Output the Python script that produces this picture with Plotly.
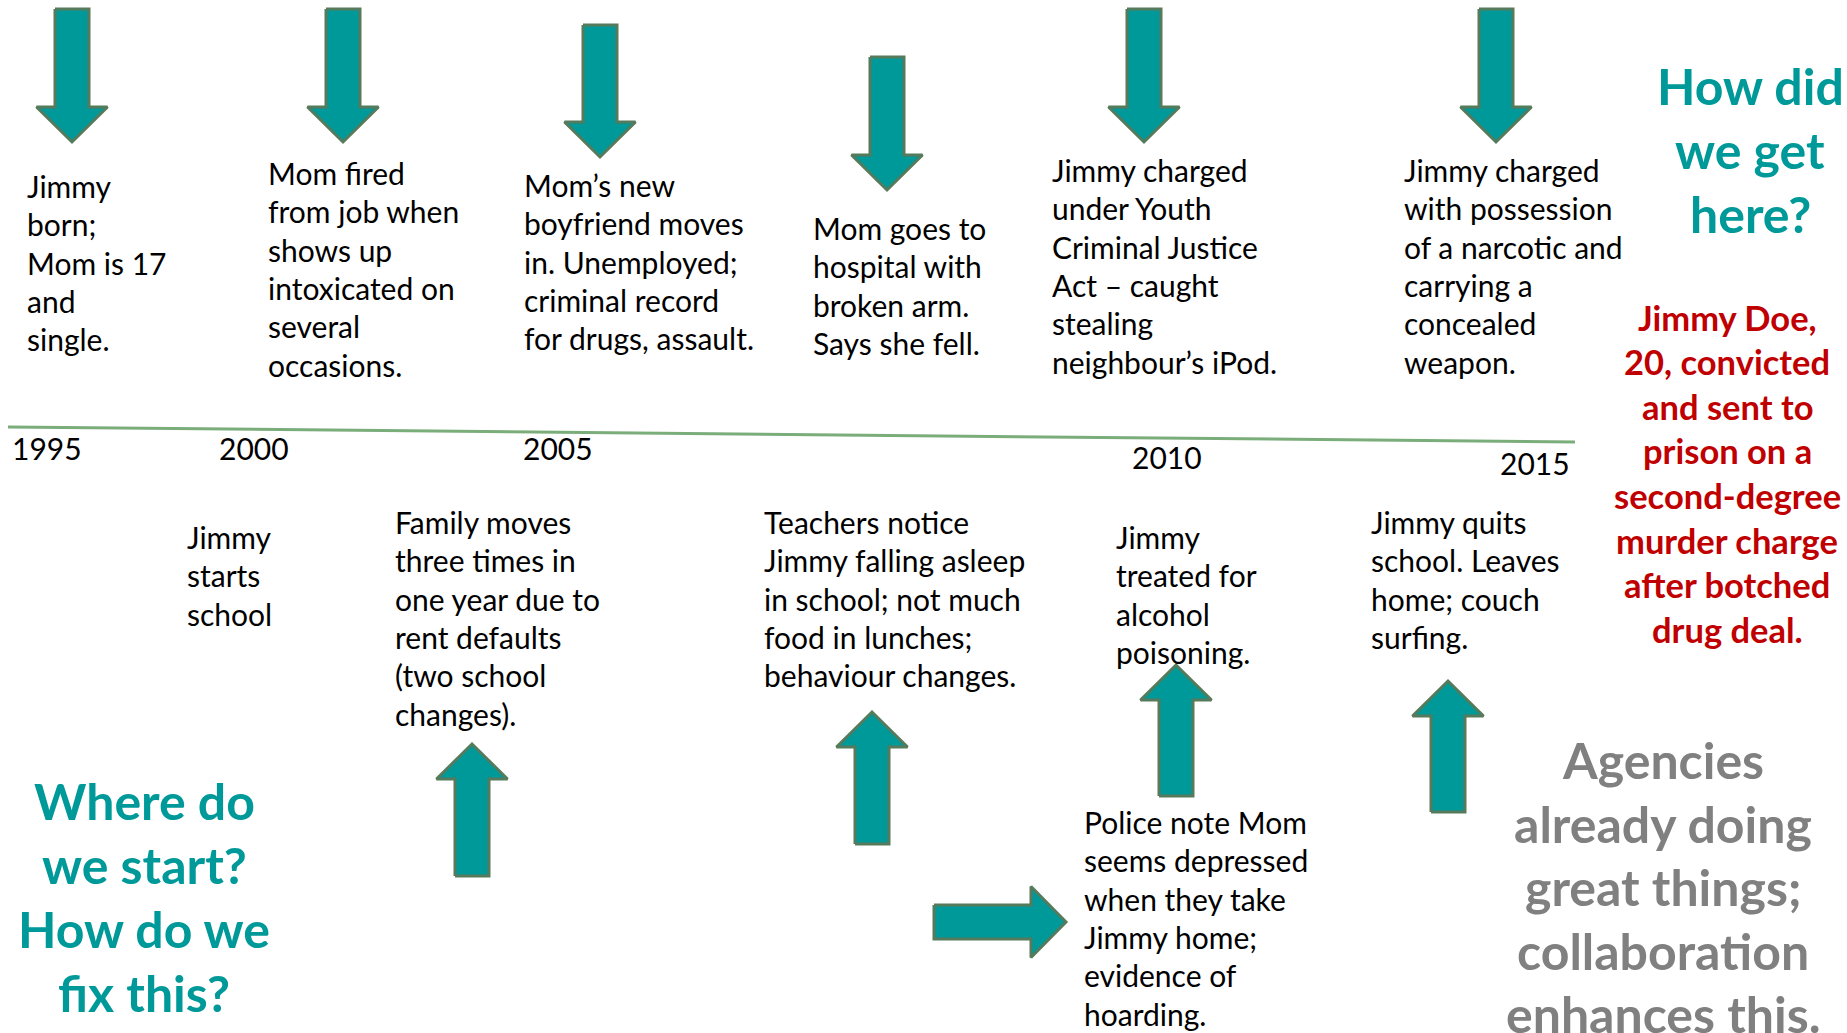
import plotly.graph_objects as go

W, H = 1847, 1033
FONT = "Lato, Carlito, sans-serif"
TEAL = "#009999"
EDGE = "#557a5c"
LINE_GREEN = "#7aad7a"

# ---- data ----
years = ["1995", "2000", "2005", "2010", "2015"]

top_events = [
    ["Jimmy", "born;", "Mom is 17", "and", "single."],
    ["Mom fired", "from job when", "shows up", "intoxicated on", "several", "occasions."],
    ["Mom\u2019s new", "boyfriend moves", "in. Unemployed;", "criminal record", "for drugs, assault."],
    ["Mom goes to", "hospital with", "broken arm.", "Says she fell."],
    ["Jimmy charged", "under Youth", "Criminal Justice", "Act \u2013 caught", "stealing", "neighbour\u2019s iPod."],
    ["Jimmy charged", "with possession", "of a narcotic and", "carrying a", "concealed", "weapon."],
]
bottom_events = [
    ["Jimmy", "starts", "school"],
    ["Family moves", "three times in", "one year due to", "rent defaults", "(two school", "changes)."],
    ["Teachers notice", "Jimmy falling asleep", "in school; not much", "food in lunches;", "behaviour changes."],
    ["Jimmy", "treated for", "alcohol", "poisoning."],
    ["Jimmy quits", "school. Leaves", "home; couch", "surfing."],
    ["Police note Mom", "seems depressed", "when they take", "Jimmy home;", "evidence of", "hoarding."],
]
question_top = ["How did", "we get", "here?"]
outcome = ["Jimmy Doe,", "20, convicted", "and sent to", "prison on a",
           "second-degree", "murder charge", "after botched", "drug deal."]
question_bottom = ["Where do", "we start?", "How do we", "fix this?"]
agencies = ["Agencies", "already doing", "great things;", "collaboration", "enhances this."]

# ---- layout (pixel positions) ----
year_pos = [(10, 448), (217, 448), (521, 448), (1130, 457), (1498, 463)]
top_text_pos = [(25, 186), (266, 173), (522, 185), (811, 228), (1050, 170), (1402, 170)]
bottom_text_pos = [(185, 537), (393, 522), (762, 522), (1114, 537), (1369, 522), (1082, 822)]
LINE_SP = 38.3
TXT = 30

# arrows: (center, tail, tip) along their direction
down_arrows = [(72, 9, 142), (343, 9, 142), (600, 25, 157), (887, 57, 190), (1144, 9, 142), (1496, 9, 142)]
up_arrows = [(472, 876, 744), (872, 844, 712), (1176, 796, 665), (1448, 812, 681)]
right_arrows = [(922, 934, 1066)]
SHAFT, HEAD, HEADLEN = 17, 35.5, 35

timeline = ([8, 1575], [427, 442])

fig = go.Figure()

def arrow_poly(c, tail, tip, vertical=True):
    s = 1 if tip > tail else -1
    hb = tip - s * HEADLEN
    along = [tail, hb, hb, tip, hb, hb, tail, tail]
    across = [c - SHAFT, c - SHAFT, c - HEAD, c, c + HEAD, c + SHAFT, c + SHAFT, c - SHAFT]
    return (across, along) if vertical else (along, across)

for c, t, p in down_arrows + up_arrows:
    xs, ys = arrow_poly(c, t, p, True)
    fig.add_trace(go.Scatter(x=xs, y=ys, mode="lines", fill="toself", fillcolor=TEAL,
                             line=dict(color=EDGE, width=3), hoverinfo="skip", showlegend=False))
for c, t, p in right_arrows:
    xs, ys = arrow_poly(c, t, p, False)
    fig.add_trace(go.Scatter(x=xs, y=ys, mode="lines", fill="toself", fillcolor=TEAL,
                             line=dict(color=EDGE, width=3), hoverinfo="skip", showlegend=False))

fig.add_trace(go.Scatter(x=timeline[0], y=timeline[1], mode="lines",
                         line=dict(color=LINE_GREEN, width=3), hoverinfo="skip", showlegend=False))

ann = []
def add_lines(lines, x, y0, sp, size, color="#000000", bold=False, anchor="left"):
    for i, ln in enumerate(lines):
        txt = f"<b>{ln}</b>" if bold else ln
        ann.append(dict(x=x, y=y0 + i * sp, text=txt, showarrow=False, xref="x", yref="y",
                        xanchor=anchor, yanchor="middle",
                        font=dict(family=FONT, size=size, color=color)))

for yr, (x, y) in zip(years, year_pos):
    add_lines([yr], x, y, 0, TXT)
for ev, (x, y) in zip(top_events, top_text_pos):
    add_lines(ev, x, y, LINE_SP, TXT)
for ev, (x, y) in zip(bottom_events, bottom_text_pos):
    add_lines(ev, x, y, LINE_SP, TXT)

add_lines(question_top, 1750, 86, 64, 50, TEAL, True, "center")
add_lines(outcome, 1727, 317, 44.6, 34.5, "#C00000", True, "center")
add_lines(question_bottom, 144, 801, 64, 50, TEAL, True, "center")
add_lines(agencies, 1663, 760, 63.5, 50, "#808080", True, "center")

fig.update_layout(
    width=W, height=H, margin=dict(l=0, r=0, t=0, b=0),
    paper_bgcolor="white", plot_bgcolor="white",
    xaxis=dict(range=[0, W], visible=False, fixedrange=True),
    yaxis=dict(range=[H, 0], visible=False, fixedrange=True),
    annotations=ann, showlegend=False,
)
fig.write_html("out.html", config={"displayModeBar": False},
               post_script="document.body.style.margin='0px';document.body.style.overflow='hidden';")
